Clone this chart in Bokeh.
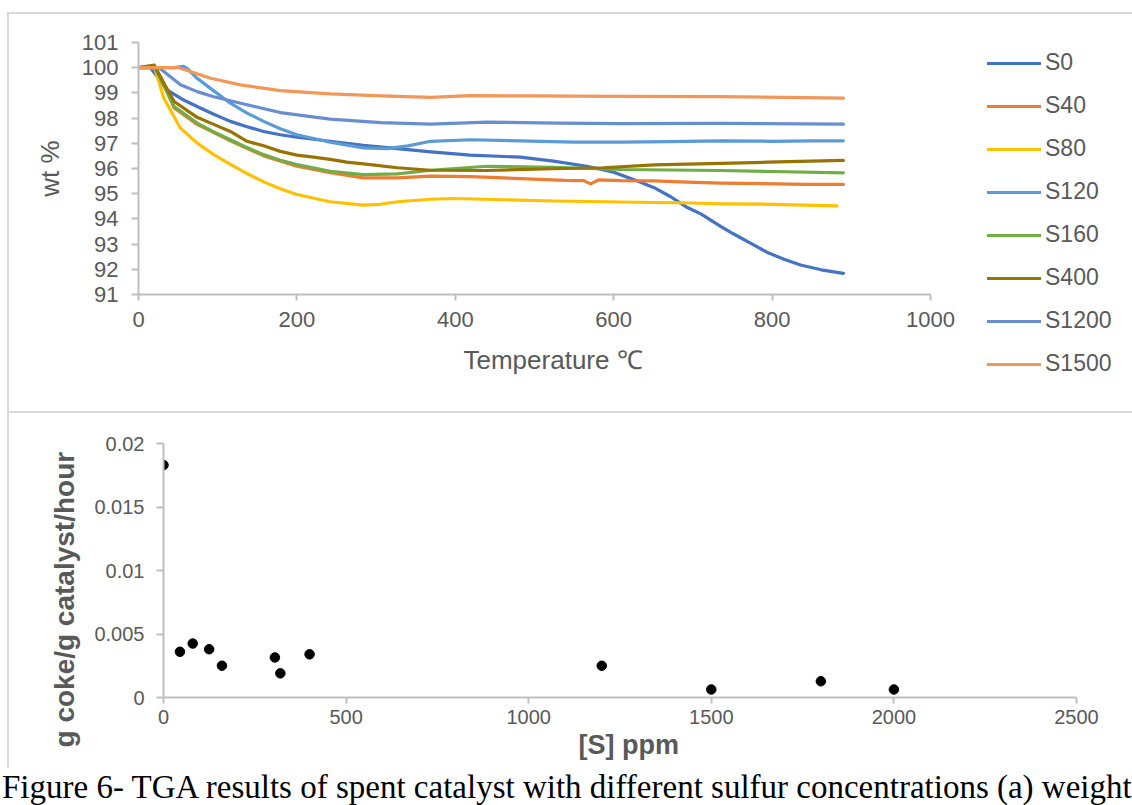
import numpy as np
from bokeh.plotting import figure
from bokeh.models import (Range1d, FixedTicker, NumeralTickFormatter, Legend,
                          LegendItem, Title, Div)
from bokeh.embed import file_html
from bokeh.resources import INLINE

# ---------------- data: (a) TGA curves ----------------
SERIES = ["S0", "S40", "S80", "S120", "S160", "S400", "S1200", "S1500"]
COLORS = ["#4472C4", "#ED7D31", "#FFC000", "#5B9BD5", "#70AD47", "#997300", "#698ED0", "#F1975A"]

T_S0 = [0, 15, 25, 36, 55, 74, 95, 116, 137, 158, 179, 200, 242, 284, 327, 369, 419, 482, 524, 566,
        600, 630, 651, 672, 693, 710, 735, 751, 775, 794, 815, 836, 862, 890]
W_S0 = [100, 100, 99.6, 99.12, 98.75, 98.46, 98.15, 97.87, 97.66, 97.47, 97.34, 97.24, 97.08, 96.92,
        96.79, 96.66, 96.53, 96.45, 96.29, 96.09, 95.85, 95.5, 95.24, 94.88, 94.45, 94.2, 93.7, 93.41,
        93.0, 92.67, 92.4, 92.17, 91.98, 91.84]

T_S40 = [0, 20, 30, 45, 74, 116, 158, 200, 242, 284, 327, 369, 419, 482, 539, 562, 571, 581, 609,
         651, 693, 735, 790, 840, 890]
W_S40 = [100, 100.05, 99.5, 98.4, 97.75, 97.1, 96.5, 96.09, 95.83, 95.63, 95.63, 95.7, 95.68, 95.6,
         95.53, 95.52, 95.39, 95.55, 95.52, 95.51, 95.46, 95.42, 95.4, 95.37, 95.37]

T_S80 = [0, 20, 32, 53, 74, 95, 116, 137, 158, 179, 200, 242, 284, 305, 327, 369, 398, 460, 524,
         590, 651, 700, 735, 800, 882]
W_S80 = [100, 100.05, 98.79, 97.6, 97.01, 96.55, 96.16, 95.8, 95.47, 95.2, 94.97, 94.68, 94.55,
         94.58, 94.68, 94.78, 94.81, 94.76, 94.71, 94.68, 94.65, 94.63, 94.6, 94.58, 94.52]

T_S120 = [0, 45, 57, 62, 74, 95, 116, 137, 158, 179, 200, 242, 284, 314, 340, 369, 419, 482, 550,
          609, 670, 735, 800, 850, 890]
W_S120 = [100, 100, 100.05, 99.95, 99.58, 99.08, 98.59, 98.2, 97.87, 97.58, 97.34, 97.04, 96.82,
          96.79, 96.9, 97.08, 97.14, 97.1, 97.05, 97.05, 97.07, 97.1, 97.08, 97.1, 97.1]

T_S160 = [0, 20, 30, 45, 74, 95, 116, 137, 158, 179, 200, 242, 284, 327, 369, 440, 524, 609, 670,
          735, 800, 890]
W_S160 = [100, 100.05, 99.4, 98.46, 97.8, 97.45, 97.14, 96.83, 96.55, 96.33, 96.16, 95.89, 95.76,
          95.79, 95.93, 96.09, 96.05, 95.96, 95.94, 95.92, 95.88, 95.83]

T_S400 = [0, 20, 30, 45, 74, 95, 116, 137, 158, 179, 200, 221, 242, 263, 284, 327, 369, 440, 524,
          587, 651, 735, 794, 890]
W_S400 = [100, 100.1, 99.5, 98.66, 98.03, 97.75, 97.47, 97.08, 96.9, 96.68, 96.53, 96.45, 96.36,
          96.25, 96.18, 96.03, 95.93, 95.92, 95.99, 96.03, 96.14, 96.2, 96.25, 96.32]

T_S1200 = [0, 20, 28, 53, 74, 95, 137, 179, 242, 306, 369, 440, 530, 609, 735, 890]
W_S1200 = [100, 100, 99.95, 99.32, 99.05, 98.85, 98.53, 98.22, 97.96, 97.82, 97.76, 97.84, 97.8,
           97.78, 97.79, 97.76]

T_S1500 = [0, 51, 70, 91, 129, 179, 242, 306, 369, 419, 500, 600, 735, 890]
W_S1500 = [100, 100, 99.8, 99.58, 99.32, 99.09, 98.96, 98.88, 98.82, 98.89, 98.88, 98.86, 98.85, 98.79]

TEMPS = [T_S0, T_S40, T_S80, T_S120, T_S160, T_S400, T_S1200, T_S1500]
WEIGHTS = [W_S0, W_S40, W_S80, W_S120, W_S160, W_S400, W_S1200, W_S1500]

X_TICKS_A = [0, 200, 400, 600, 800, 1000]
Y_TICKS_A = [91, 92, 93, 94, 95, 96, 97, 98, 99, 100, 101]

# ---------------- data: (b) coke rate vs sulfur ----------------
S_PPM = [0, 45, 80, 125, 160, 305, 320, 400, 1200, 1500, 1800, 2000]
COKE_RATE = [0.0183, 0.0036, 0.00425, 0.0038, 0.0025, 0.00315, 0.0019, 0.0034, 0.0025, 0.00063,
             0.00128, 0.00063]
X_TICKS_B = [0, 500, 1000, 1500, 2000, 2500]
Y_TICKS_B = [0, 0.005, 0.01, 0.015, 0.02]

CAPTION = "Figure 6- TGA results of spent catalyst with different sulfur concentrations (a) weight"

FONT = "Liberation Sans"
TXT = "#595959"
AX = "#bfbfbf"
PANEL = "2px solid #d9d9d9"


def style_axes(p, label_size, xout, yout, xstand, ystand):
    for ax in (p.xaxis[0], p.yaxis[0]):
        ax.axis_line_color = AX
        ax.axis_line_width = 2
        ax.major_tick_line_color = AX
        ax.major_tick_line_width = 2
        ax.minor_tick_line_color = None
        ax.major_tick_in = 0
        ax.major_label_text_font = FONT
        ax.major_label_text_font_size = label_size
        ax.major_label_text_color = TXT
    p.xaxis[0].major_tick_out = xout
    p.yaxis[0].major_tick_out = yout
    p.xaxis[0].major_label_standoff = xstand
    p.yaxis[0].major_label_standoff = ystand
    p.xgrid.visible = False
    p.ygrid.visible = False
    p.outline_line_color = None


# ---------------- top chart ----------------
top = figure(frame_width=792, frame_height=252, x_range=Range1d(0, 1000), y_range=Range1d(91, 101),
             output_backend="svg", toolbar_location=None,
             min_border_left=129, min_border_right=202, min_border_top=28, min_border_bottom=117,
             margin=(12, 0, 0, 7),
             styles={"border-top": PANEL, "border-left": PANEL, "border-bottom": PANEL})
style_axes(top, "22px", 6, 7, 11, 13)
top.xaxis[0].ticker = FixedTicker(ticks=X_TICKS_A)
top.yaxis[0].ticker = FixedTicker(ticks=Y_TICKS_A)
top.yaxis[0].axis_label = "wt %"
top.yaxis[0].axis_label_text_font = FONT
top.yaxis[0].axis_label_text_font_size = "26px"
top.yaxis[0].axis_label_text_font_style = "normal"
top.yaxis[0].axis_label_text_color = TXT
top.yaxis[0].axis_label_standoff = 14

items = []
for name, col, t, w in zip(SERIES, COLORS, TEMPS, WEIGHTS):
    r = top.line(t, w, line_color=col, line_width=3.2, line_join="round", line_cap="round")
    items.append(LegendItem(label=name, renderers=[r]))

legend = Legend(items=items, location=(57, -83), orientation="vertical",
                glyph_width=54, glyph_height=24, label_height=24, label_standoff=4,
                spacing=16, padding=0, margin=0,
                label_text_font=FONT, label_text_font_size="23px", label_text_color=TXT,
                border_line_color=None, background_fill_alpha=0)
top.add_layout(legend, "right")

top.add_layout(Title(text="Temperature ℃", align="left", offset=325, standoff=27,
                     text_font=FONT, text_font_size="26px", text_font_style="normal",
                     text_color=TXT), "below")

# ---------------- bottom chart ----------------
bot = figure(width=1125, height=355, x_range=Range1d(0, 2500), y_range=Range1d(0, 0.02),
             output_backend="svg", toolbar_location=None,
             min_border_left=154, min_border_right=58, min_border_top=30, min_border_bottom=71,
             margin=(0, 0, 0, 7), styles={"border-left": PANEL})
style_axes(bot, "20px", 6, 7, 6, 12)
bot.xaxis[0].ticker = FixedTicker(ticks=X_TICKS_B)
bot.yaxis[0].ticker = FixedTicker(ticks=Y_TICKS_B)
bot.yaxis[0].formatter = NumeralTickFormatter(format="0.[000]")
bot.scatter(S_PPM, COKE_RATE, size=9.5, fill_color="black", line_color="black")

bot.add_layout(Title(text="[S] ppm", align="left", offset=415, standoff=2,
                     text_font=FONT, text_font_size="27px", text_font_style="bold",
                     text_color=TXT), "below")
bot.add_layout(Title(text="g coke/g catalyst/hour", align="left", offset=-50, standoff=23,
                     text_font=FONT, text_font_size="28px", text_font_style="bold",
                     text_color=TXT), "left")

cap = Div(text=CAPTION, width=1132, height=37, margin=(0, 0, 0, 2),
          styles={"font-family": "Liberation Serif", "font-size": "33px", "color": "#000",
                  "white-space": "nowrap", "line-height": "1", "padding-top": "3px"})

with open("out.html", "w") as f:
    f.write(file_html([top, bot, cap], INLINE))
